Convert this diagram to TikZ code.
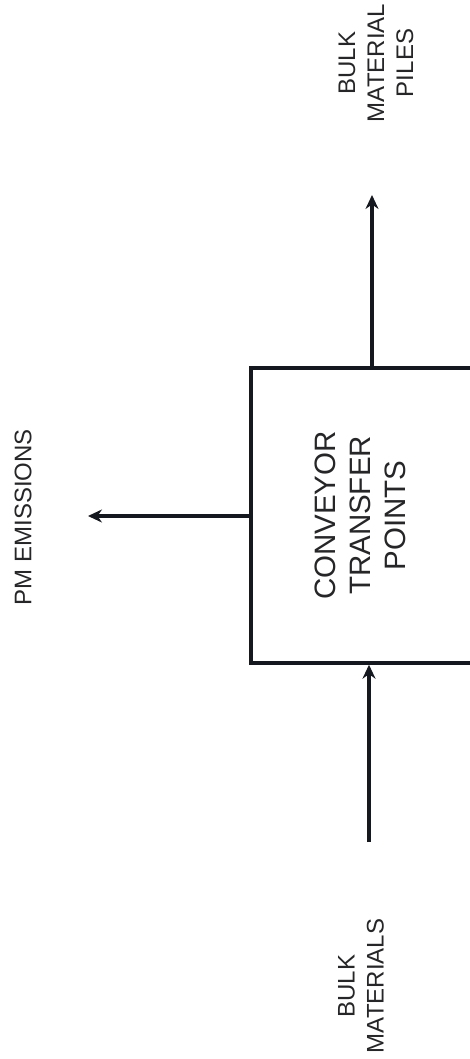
\documentclass[tikz,border=0pt]{standalone}
\usepackage{fontspec}
\setmainfont{Liberation Sans}
\usetikzlibrary{arrows.meta}
\definecolor{inkline}{RGB}{22,24,32}
\definecolor{inktext}{RGB}{38,38,40}
\tikzset{
  flow/.style={draw=inkline, line width=3.2pt, -{Stealth[length=14pt,width=13pt]}},
  unitbox/.style={draw=inkline, line width=3.4pt, fill=white, rectangle,
    minimum width=224pt, minimum height=295pt, inner sep=0pt,
    align=center, text=inktext, font=\fontsize{29.5}{35}\selectfont},
  lbl/.style={rotate=90, inner sep=0pt, align=center, text=inktext,
    font=\fontsize{24}{29}\selectfont}
}
\begin{document}
\begin{tikzpicture}[x=1pt, y=-1pt]
  \useasboundingbox (0,0) rectangle (470,1059);
  \fill[white] (0,0) rectangle (470,1059);
  \begin{scope}
    \clip (0,0) rectangle (470,1059);
    % process unit (its right side runs past the page edge)
    \node[unitbox] (box) at (363,515.5) {\rotatebox{90}{\begin{tabular}{@{}c@{}}CONVEYOR\\TRANSFER\\POINTS\end{tabular}}};
  \end{scope}

  % stream labels
  \node[lbl] (piles) at (376,63) {BULK\\MATERIAL\\PILES};
  \node[lbl] (feed) at (361,986) {BULK\\MATERIALS};
  \node[lbl] (pm) at (23,517) {PM EMISSIONS};

  % free ends of the connectors
  \coordinate (pilesend) at (372,195);
  \coordinate (feedstart) at (369,842);
  \coordinate (pmend) at (88,516);

  % streams
  \draw[flow] (box.north -| pilesend) -- (pilesend);
  \draw[flow] (feedstart) -- (feedstart |- box.south);
  \draw[flow] (box.west |- pmend) -- (pmend);
\end{tikzpicture}
\end{document}
